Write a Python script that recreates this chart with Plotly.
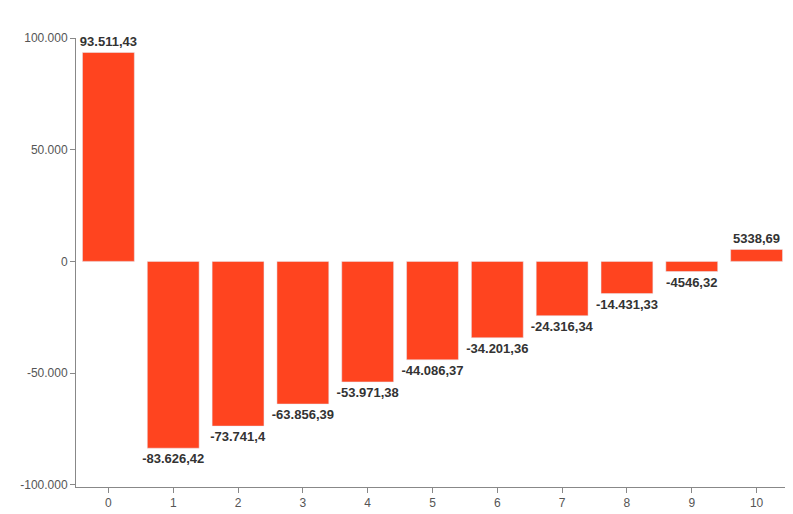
import plotly.graph_objects as go

categories = ["0", "1", "2", "3", "4", "5", "6", "7", "8", "9", "10"]
values = [93511.43, -83626.42, -73741.4, -63856.39, -53971.38, -44086.37,
          -34201.36, -24316.34, -14431.33, -4546.32, 5338.69]
labels = ["93.511,43", "-83.626,42", "-73.741,4", "-63.856,39", "-53.971,38",
          "-44.086,37", "-34.201,36", "-24.316,34", "-14.431,33", "-4546,32", "5338,69"]
y_ticks = [100000, 50000, 0, -50000, -100000]
y_tick_labels = ["100.000", "50.000", "0", "-50.000", "-100.000"]

fig = go.Figure(
    go.Bar(
        x=categories,
        y=values,
        text=labels,
        textposition="outside",
        cliponaxis=False,
        textfont=dict(family="Liberation Sans, Arial, sans-serif",
                      size=13, color="#333333"),
        texttemplate="<b>%{text}</b>",
        marker_color="#FF441F",
        width=0.8,
    )
)

fig.update_layout(
    width=793,
    height=514,
    margin=dict(l=65, r=12, t=30, b=28),
    plot_bgcolor="white",
    paper_bgcolor="white",
    showlegend=False,
    uniformtext=dict(minsize=13, mode="show"),
    font=dict(family="Liberation Sans, Arial, sans-serif",
              size=12, color="#555555"),
    xaxis=dict(type="category", showline=True, linecolor="#888888",
               ticks="outside", ticklen=5, tickcolor="#888888",
               showgrid=False),
    yaxis=dict(range=[-101000, 100000], tickvals=y_ticks, ticktext=y_tick_labels,
               showline=True, linecolor="#888888", ticks="outside", ticklen=5,
               tickcolor="#888888", showgrid=False, zeroline=False),
)

fig.write_html("out.html")
